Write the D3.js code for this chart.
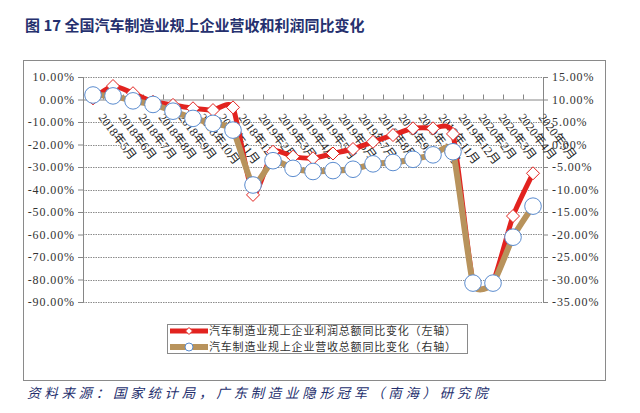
<!DOCTYPE html>
<html><head><meta charset="utf-8">
<script src="https://cdn.jsdelivr.net/npm/d3@7"></script>
<style>
html,body{margin:0;padding:0;background:#fff;}
svg{display:block;}
</style></head>
<body>
<svg id="c" width="640" height="413"></svg>
<script>
const categories = ["2018年5月","2018年6月","2018年7月","2018年8月","2018年9月","2018年10月","2018年11月","2018年12月",
  "2019年2月","2019年3月","2019年4月","2019年5月","2019年6月","2019年7月","2019年8月","2019年9月","2019年10月","2019年11月","2019年12月",
  "2020年2月","2020年3月","2020年4月","2020年5月"];
const profit = [0.5, 6.0, 2.8, -1.0, -2.4, -3.9, -4.7, -3.5,
  -42.4, -23.2, -25.4, -26.1, -24.0, -22.0, -18.8, -15.8, -12.8, -12.8, -15.3,
  -81.0, -81.0, -51.8, -32.8];
const revenue = [11.0, 10.8, 9.7, 8.9, 7.4, 5.8, 4.7, 3.2,
  -9.0, -3.6, -5.3, -6.0, -5.8, -5.5, -4.3, -4.0, -3.3, -2.3, -1.6,
  -30.8, -30.8, -20.6, -13.7];
const leftTicks = [10, 0, -10, -20, -30, -40, -50, -60, -70, -80, -90];
const rightTicks = [15, 10, 5, 0, -5, -10, -15, -20, -25, -30, -35];
const seriesNames = ["汽车制造业规上企业利润总额同比变化（左轴）", "汽车制造业规上企业营收总额同比变化（右轴）"];
const titleText = "图 17  全国汽车制造业规上企业营收和利润同比变化";
const sourceText = "资料来源：国家统计局，广东制造业隐形冠军（南海）研究院";

const svg = d3.select("#c");
const L = 83, R = 543, T = 77, B = 302;
const x = d3.scaleBand().domain(categories).range([L, R]).padding(0);
const xc = c => x(c) + x.bandwidth() / 2;
const yL = d3.scaleLinear().domain([-90, 10]).range([B, T]);
const yR = d3.scaleLinear().domain([-35, 15]).range([B, T]);

const RED = "#e2231f", TAN = "#b8935c", BLUE = "#5b8ccf", NAVY = "#25306e", AX = "#868686";
const serif = "'Liberation Serif','Noto Sans CJK SC',serif";

svg.append("rect").attr("width", 640).attr("height", 413).attr("fill", "#fff");
svg.append("text").attr("x", 25).attr("y", 31).text(titleText)
  .attr("font-family", "'Noto Sans CJK SC',sans-serif").attr("font-weight", "bold")
  .attr("font-size", 15).attr("fill", NAVY);
svg.append("rect").attr("x", 23.5).attr("y", 60.5).attr("width", 582).attr("height", 320)
  .attr("fill", "none").attr("stroke", "#8a8a8a").attr("stroke-width", 1);

// gridlines
svg.append("g").selectAll("line").data(leftTicks.filter(d => d !== 0)).join("line")
  .attr("x1", L).attr("x2", R).attr("y1", d => Math.round(yL(d)) + 0.5).attr("y2", d => Math.round(yL(d)) + 0.5)
  .attr("stroke", "#8c8c8c").attr("stroke-width", 1).attr("stroke-dasharray", "1.5,1");

// left axis
const gl = svg.append("g").attr("transform", `translate(${L},0)`)
  .call(d3.axisLeft(yL).tickValues(leftTicks).tickSize(5).tickSizeOuter(0).tickPadding(3)
    .tickFormat(d => d.toFixed(2) + "%"));
const gr = svg.append("g").attr("transform", `translate(${R},0)`)
  .call(d3.axisRight(yR).tickValues(rightTicks).tickSize(5).tickSizeOuter(0).tickPadding(4)
    .tickFormat(d => d.toFixed(2) + "%"));
[gl, gr].forEach(g => {
  g.selectAll("path,line").attr("stroke", AX);
  g.selectAll("text").attr("font-family", serif).attr("font-size", 12).attr("fill", "#333")
    .attr("letter-spacing", "0.9px");
});

// category axis at 0
const y0 = yL(0);
const gx = svg.append("g").attr("transform", `translate(0,${y0})`)
  .call(d3.axisTop(x).tickSize(0).tickFormat(""));
gx.select(".domain").attr("stroke", AX);
gx.selectAll(".tick").remove();
svg.append("g").selectAll("line").data(categories.slice(1)).join("line")
  .attr("x1", d => Math.round(x(d)) + 0.5).attr("x2", d => Math.round(x(d)) + 0.5)
  .attr("y1", y0).attr("y2", y0 - 5).attr("stroke", AX);
svg.append("g").selectAll("text").data(categories).join("text")
  .attr("transform", d => `translate(${xc(d) + 5},${y0 + 18}) rotate(53)`)
  .attr("font-family", serif).attr("font-size", 12).attr("fill", "#222").text(d => d);

// series
const curve = d3.curveCardinal.tension(0.45);
const lineP = d3.line().x((d, i) => xc(categories[i])).y(d => yL(d)).curve(curve);
const lineR = d3.line().x((d, i) => xc(categories[i])).y(d => yR(d)).curve(curve);
svg.append("path").attr("d", lineP(profit)).attr("fill", "none").attr("stroke", RED).attr("stroke-width", 5);
svg.append("g").selectAll("path").data(profit).join("path")
  .attr("d", "M0,-6.5L6.5,0L0,6.5L-6.5,0Z")
  .attr("transform", (d, i) => `translate(${xc(categories[i])},${yL(d)})`)
  .attr("fill", "#fff").attr("stroke", RED).attr("stroke-width", 1);
svg.append("path").attr("d", lineR(revenue)).attr("fill", "none").attr("stroke", TAN).attr("stroke-width", 6);
svg.append("g").selectAll("circle").data(revenue).join("circle")
  .attr("cx", (d, i) => xc(categories[i])).attr("cy", d => yR(d)).attr("r", 8.3)
  .attr("fill", "#fff").attr("stroke", BLUE).attr("stroke-width", 1);

// legend
const lg = svg.append("g");
lg.append("rect").attr("x", 167.5).attr("y", 324.5).attr("width", 300).attr("height", 29)
  .attr("fill", "#fff").attr("stroke", "#8a8a8a");
const rows = [{c: RED, w: 5, m: "d"}, {c: TAN, w: 6, m: "c"}];
rows.forEach((r, i) => {
  const yy = 331 + i * 16;
  lg.append("line").attr("x1", 170).attr("x2", 208).attr("y1", yy).attr("y2", yy)
    .attr("stroke", r.c).attr("stroke-width", r.w);
  if (r.m === "d") lg.append("path").attr("d", "M0,-3.5L3.5,0L0,3.5L-3.5,0Z")
    .attr("transform", `translate(189,${yy})`).attr("fill", "#fff").attr("stroke", RED);
  else lg.append("circle").attr("cx", 189).attr("cy", yy).attr("r", 4)
    .attr("fill", "#fff").attr("stroke", BLUE);
  lg.append("text").attr("x", 209).attr("y", yy + 4).text(seriesNames[i])
    .attr("font-family", "'Noto Sans CJK SC',sans-serif").attr("font-size", 11)
    .attr("letter-spacing", "0.8px").attr("fill", "#333");
});

svg.append("text").attr("x", 27).attr("y", 398).text(sourceText)
  .attr("font-family", "'Noto Sans CJK SC',sans-serif").attr("font-size", 13.5)
  .attr("font-style", "italic").attr("letter-spacing", "3.7px").attr("fill", NAVY);
</script>
</body></html>
